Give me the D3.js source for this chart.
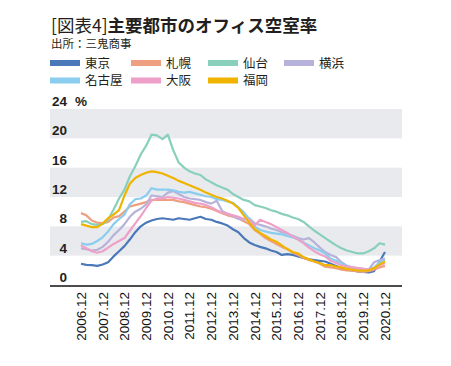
<!DOCTYPE html>
<html><head><meta charset="utf-8">
<script src="https://cdn.jsdelivr.net/npm/d3@7"></script>
<style>
body{margin:0;background:#fff;}
svg{display:block;}
</style></head>
<body>
<svg id="c" width="451" height="366"></svg>
<script>
// Quarterly observations from 2006.12 to 2020.12 (57 points)
const startYear = 2006, startMonth = 11; // December (0-based)
const cities = ["東京","札幌","仙台","横浜","名古屋","大阪","福岡"];
const colors = ["#4a78b8","#ee9f80","#88d0bb","#b7b2da","#8acdef","#efa0c9","#f0b400"];
const tokyo   = [2.9,2.75,2.7,2.6,2.8,3.1,3.9,4.6,5.3,6.2,7.2,8.0,8.5,8.8,9.0,9.1,9.0,8.9,9.1,9.0,8.9,9.1,9.3,9.0,8.9,8.6,8.4,8.1,7.6,7.2,6.4,5.8,5.45,5.2,5.0,4.7,4.5,4.1,4.2,4.1,3.9,3.7,3.5,3.4,3.3,3.2,2.9,2.6,2.3,2.1,2.0,1.85,1.8,1.7,1.9,3.2,4.5];
const sapporo = [9.8,9.5,8.8,8.5,8.4,8.6,9.2,9.4,10.0,10.7,10.9,11.1,11.3,11.6,11.6,11.6,11.6,11.6,11.4,11.3,11.1,10.9,10.7,10.6,10.4,10.1,9.8,9.5,9.3,9.1,8.7,8.3,7.5,7.0,6.4,6.0,5.6,5.2,4.9,4.4,4.1,3.7,3.4,3.2,2.9,2.5,2.4,2.3,2.1,2.0,1.95,1.85,1.8,1.9,2.1,2.4,2.6];
const sendai  = [8.6,8.7,8.3,8.2,8.3,8.9,10.3,11.8,13.0,14.8,16.2,17.8,19.0,20.5,20.4,19.9,20.5,18.4,16.7,16.0,15.5,15.2,15.0,14.4,14.0,13.6,13.3,13.0,12.4,12.0,11.6,11.4,10.9,10.7,10.5,10.2,10.0,9.7,9.5,9.2,9.0,8.6,8.0,7.4,6.9,6.4,5.9,5.4,5.0,4.7,4.5,4.3,4.3,4.6,5.0,5.7,5.5];
const yokohama= [5.0,4.9,4.7,4.8,5.2,5.9,6.8,7.5,8.3,9.3,10.0,10.4,11.0,12.2,12.1,12.0,12.6,12.8,12.4,12.0,11.8,11.7,11.6,11.3,11.1,11.5,10.1,9.7,9.4,9.0,8.9,9.1,8.4,8.2,8.0,7.7,7.5,7.2,7.0,6.7,6.4,6.2,6.4,5.8,5.1,4.5,4.1,3.8,3.1,2.6,2.4,2.3,2.2,2.1,3.1,3.4,3.6];
const nagoya  = [5.7,5.5,5.6,6.0,6.5,7.3,8.3,9.0,9.6,11.0,11.7,11.8,12.2,13.2,13.0,13.0,13.0,12.9,12.7,12.6,12.7,12.5,12.3,12.1,12.0,11.7,11.6,11.4,11.2,10.6,9.9,9.0,8.0,7.5,7.3,7.1,7.0,6.9,6.7,6.5,6.2,5.8,5.4,5.0,4.7,4.3,3.6,3.3,3.0,2.6,2.3,2.1,2.0,2.1,2.4,3.1,3.4];
const osaka   = [5.4,5.0,4.6,4.4,4.6,5.1,5.6,6.0,6.4,7.4,8.4,9.4,10.5,11.5,11.8,11.8,12.0,11.9,11.8,11.6,11.4,11.2,11.1,10.9,10.6,10.2,9.9,9.7,9.5,9.3,9.0,8.9,8.1,8.9,8.6,8.3,7.9,7.5,7.1,6.6,6.2,5.7,5.1,4.6,4.2,3.9,3.3,3.0,2.7,2.5,2.4,2.3,2.2,2.1,2.3,2.7,3.0];
const fukuoka = [8.3,8.1,7.9,7.9,8.4,9.1,9.6,10.2,12.2,13.8,14.6,15.0,15.3,15.5,15.4,15.2,14.9,14.6,14.2,13.9,13.6,13.3,13.0,12.6,12.3,12.0,11.8,11.5,11.1,10.5,9.5,8.5,7.6,7.1,6.7,6.2,5.9,5.4,4.9,4.5,4.3,3.8,3.5,3.2,3.0,2.7,2.7,2.5,2.4,2.2,2.1,2.0,1.95,2.0,2.3,2.8,3.2];
const seriesValues = [tokyo,sapporo,sendai,yokohama,nagoya,osaka,fukuoka];
const yTicks = [0,4,8,12,16,20,24];
const xTickYears = d3.range(2006,2021);

const dates = tokyo.map((_,i)=> new Date(startYear, startMonth + 3*i, 1));
const svg = d3.select("#c");
const x = d3.scaleTime().domain([new Date(2006,11,1), new Date(2020,11,1)]).range([81,385]);
const y = d3.scaleLinear().domain([0,24]).range([285,109]);
const plotL = 50, plotR = 402;

// bands
[[20,24],[12,16],[4,8]].forEach(([a,b])=>{
  svg.append("rect").attr("x",plotL).attr("width",plotR-plotL)
    .attr("y",y(b)).attr("height",y(a)-y(b)).attr("fill","#e8eaed");
});

// title
const title = svg.append("text").attr("x",51).attr("y",32)
  .attr("font-family","'Noto Sans CJK JP'").attr("font-size",17.5).attr("fill","#231f20");
title.append("tspan").attr("font-weight",400).text("[図表4]");
title.append("tspan").attr("font-weight",700).text("主要都市のオフィス空室率");
svg.append("text").attr("x",51).attr("y",48).attr("font-family","'Noto Sans CJK JP'")
  .attr("font-size",11.5).attr("fill","#231f20").text("出所：三鬼商事");

// legend
const colX = [50,131,208,284];
cities.forEach((c,i)=>{
  const col = i%4, row = Math.floor(i/4);
  const lx = colX[col], ly = 63 + row*17.5;
  svg.append("rect").attr("x",lx).attr("y",ly-3).attr("width",30).attr("height",6).attr("fill",colors[i]);
  svg.append("text").attr("x",lx+35).attr("y",ly).attr("dy","0.36em")
    .attr("font-family","'Noto Sans CJK JP'").attr("font-size",12.5).attr("fill","#231f20").text(c);
});

// y labels
yTicks.forEach(v=>{
  svg.append("text").attr("x",67).attr("y",y(v)-3).attr("text-anchor","end")
    .attr("font-family","'Liberation Sans',Arial,sans-serif").attr("font-weight",700)
    .attr("font-size",13.5).attr("fill","#231f20").text(v);
});
svg.append("text").attr("x",75).attr("y",y(24)-3)
  .attr("font-family","'Liberation Sans',Arial,sans-serif").attr("font-weight",700)
  .attr("font-size",13.5).attr("fill","#231f20").text("%");

// lines
const line = d3.line().x((d,i)=>x(dates[i])).y(d=>y(d));
seriesValues.forEach((vals,k)=>{
  svg.append("path").datum(vals).attr("d",line).attr("fill","none")
    .attr("stroke",colors[k]).attr("stroke-width",2.2).attr("stroke-linejoin","round");
});

// x axis line
svg.append("line").attr("x1",plotL).attr("x2",plotR).attr("y1",286).attr("y2",286)
  .attr("stroke","#111").attr("stroke-width",1.5);

// x tick labels
const fmt = d3.timeFormat("%Y.%m");
xTickYears.forEach(yr=>{
  const d = new Date(yr,11,1);
  svg.append("text").attr("transform",`translate(${x(d)},292) rotate(-90)`)
    .attr("text-anchor","end").attr("dy","0.36em")
    .attr("font-family","'Liberation Sans',Arial,sans-serif")
    .attr("font-size",13.5).attr("fill","#111").text(fmt(d));
});
</script>
</body></html>
